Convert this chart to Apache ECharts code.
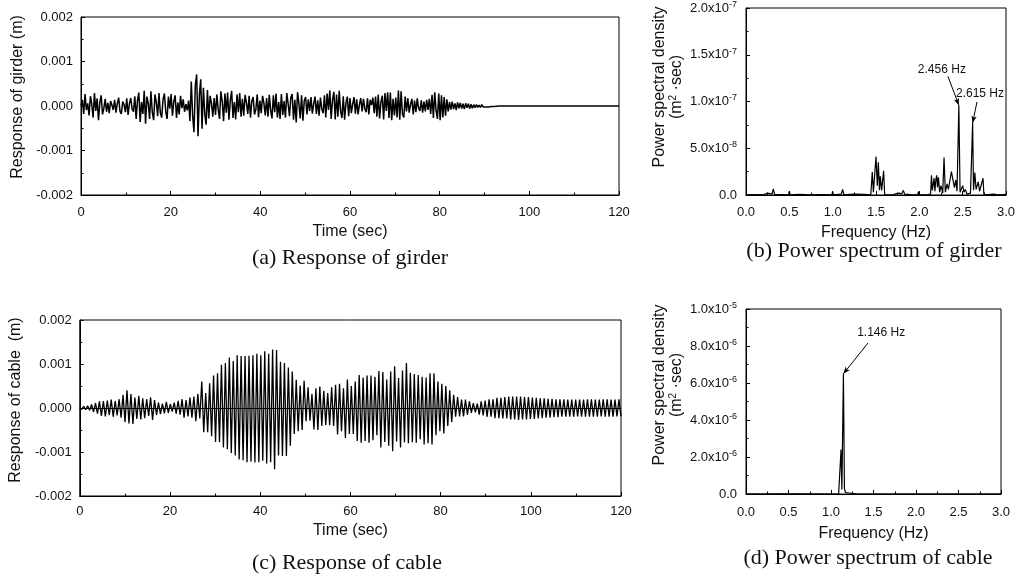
<!DOCTYPE html>
<html>
<head>
<meta charset="utf-8">
<script src="https://cdn.jsdelivr.net/npm/echarts@6/dist/echarts.min.js"></script>
<style>
  html, body { margin: 0; padding: 0; background: #fff; }
  #chart { width: 1023px; height: 577px; }
</style>
</head>
<body>
<div id="chart"></div>
<script>
// ---- Girder displacement record (unit: 1e-4 m), sampled every GIRDER_DT s ----
const GIRDER_DT = 0.3;
const girderResp = [
  0, 1.4, -1.8, 2.7, -0.9, 0.6, -2.1, 2.2, 0.4, -2.6,
  2.9, -1.1, 1.7, -3.2, 0.8, 2.4, -1.9, -0.5, 1.6, -1.3,
  0.7, -1.6, 1.1, 0.2, -0.9, 1.4, -1.5, 0.6, 1.9, -1.2,
  -1.8, 1.0, 0.3, -1.4, 1.7, -2.0, 0.5, 1.8, -0.7, -1.3,
  2.2, -2.9, 1.3, 3.0, -3.6, 0.9, -1.8, 3.4, -4.0, 2.1,
  0.6, -2.9, 3.3, -1.4, -3.2, 2.6, 0.8, -2.3, 2.9, -1.6,
  -2.6, 1.5, 2.8, -1.2, -2.9, 2.1, -0.6, 2.7, -2.2, 1.0,
  2.4, -2.7, 0.8, -1.9, 2.3, -0.5, 1.5, -1.3, 0.4, -1.0,
  1.2, -3.4, 5.5, -2.2, -5.9, 4.7, 7.1, -6.8, 2.3, 6.0,
  -5.1, 4.1, -1.7, -4.2, 3.6, -2.8, 2.3, 0.6, -2.4, 1.8,
  -2.0, 2.6, -0.8, -2.9, 3.3, 1.0, -3.4, 2.8, -1.5, 3.0,
  -3.1, 1.2, 3.4, -2.7, 0.9, -3.0, 2.6, -1.4, 2.9, -2.4,
  1.6, -2.2, 2.5, 0.7, -1.8, 2.3, -2.6, 1.1, 2.0, -1.9,
  -0.8, 2.6, -2.5, 1.2, -1.6, 2.3, 0.6, -2.1, 1.8, -2.4,
  2.5, -1.0, -2.8, 2.4, -1.4, 2.8, -2.6, 0.9, -2.9, 2.7,
  -2.0, 1.1, -2.6, 2.9, 0.5, -2.3, 1.9, 2.7, -3.1, 1.4,
  -3.7, 3.1, 0.6, -2.8, 2.4, -3.3, 1.2, 2.0, -1.9, 1.5,
  -1.1, 2.0, -1.7, 0.5, 2.1, -1.8, 1.3, -2.2, 1.9, -0.6,
  -1.6, 2.4, -2.6, 2.8, -0.9, 3.5, -2.9, 1.4, 3.2, -3.0,
  2.6, -2.4, 3.4, -1.2, -2.7, 2.2, -3.1, 0.7, 2.1, -2.3,
  1.8, -1.6, 0.4, 2.0, -1.7, 1.5, -1.9, 0.3, 1.8, -1.2,
  1.6, -0.6, -1.4, 1.7, -1.9, 1.4, 0.2, 1.9, -1.6, 2.1,
  -2.4, 2.6, -2.8, 0.9, 2.3, -3.0, 2.9, -1.1, 3.1, -2.7,
  3.0, -3.2, 1.6, -2.1, 1.9, -2.6, 3.5, -3.1, 3.3, -1.8,
  -2.6, 2.1, -1.2, 1.8, -1.5, 0.4, 1.6, -1.9, 1.2, -1.4,
  1.7, -0.5, -1.1, 1.3, -1.5, 1.0, -1.2, 1.4, -0.9, 1.6,
  -1.8, 2.5, -2.7, 3.1, -1.0, -2.9, 2.8, -3.2, 2.4, -2.6,
  2.0, -2.2, 1.5, -1.2, 0.9, -0.8, 1.0, -0.7, 0.6, -0.9,
  0.8, -0.5, 0.7, -0.6, 0.5, -0.7, 0.6, -0.4, 0.5, -0.6,
  0.4, -0.5, 0.3, -0.4, 0.3, -0.3, 0.2, -0.3, 0.3, -0.2,
  0.2, -0.2, 0.1, -0.2, 0.1, -0.1, 0.1, -0.1, 0.05, -0.05,
  0, 0, 0, 0, 0, 0, 0, 0, 0, 0,
  0, 0, 0, 0, 0, 0, 0, 0, 0, 0,
  0, 0, 0, 0, 0, 0, 0, 0, 0, 0,
  0, 0, 0, 0, 0, 0, 0, 0, 0, 0,
  0, 0, 0, 0, 0, 0, 0, 0, 0, 0,
  0, 0, 0, 0, 0, 0, 0, 0, 0, 0,
  0, 0, 0, 0, 0, 0, 0, 0, 0, 0,
  0, 0, 0, 0, 0, 0, 0, 0, 0, 0,
  0, 0, 0, 0, 0, 0, 0, 0, 0, 0,
  0
];

// ---- Cable displacement record (unit: 1e-4 m), one sample per half cycle of 1.146 Hz ----
const CABLE_DT = 0.4363;
const cableResp = [
  0.2, -0.3, 0.4, -0.4, 0.5, -0.5, 0.8, -0.9, 1.1, -1.3, 1.5, -1.8, 1.6, -1.9, 1.7, -1.6, 1.9, -2.0, 1.6, -1.7,
  2.0, -2.2, 3.0, -3.2, 4.0, -3.5, 3.2, -3.6, 2.4, -2.5, 2.8, -2.6, 2.2, -2.3, 2.0, -1.8, 2.4, -2.7, 1.8, -1.6,
  1.2, -1.4, 1.0, -1.2, 1.4, -1.1, 0.9, -0.8, 1.2, -1.3, 1.6, -1.5, 2.0, -2.2, 1.8, -1.9, 2.4, -2.2, 2.6, -3.0,
  3.2, -2.4, 6.0, -5.5, 3.4, -5.5, 5.6, -6.4, 7.4, -7.7, 7.9, -7.8, 9.8, -9.0, 10.2, -9.4, 11.5, -10.2, 10.7, -10.8,
  12.0, -11.7, 11.8, -11.9, 11.8, -12.3, 11.9, -12.2, 12.0, -12.4, 12.3, -12.3, 12.0, -12.0, 12.9, -12.6, 12.3, -12.3, 13.3, -13.9,
  13.2, -10.8, 10.5, -10.9, 10.2, -10.9, 9.2, -8.6, 8.3, -5.9, 6.4, -5.3, 5.1, -5.0, 6.2, -3.0, 4.7, -2.9, 3.2, -4.9,
  4.5, -5.0, 4.9, -4.1, 3.9, -3.9, 3.4, -3.9, 4.7, -4.1, 5.3, -6.0, 5.5, -5.3, 4.5, -6.8, 6.5, -5.9, 5.0, -5.9,
  6.0, -7.5, 7.5, -7.9, 6.9, -7.5, 7.4, -7.9, 7.4, -7.3, 7.1, -6.2, 8.4, -9.0, 8.2, -7.7, 6.5, -8.6, 8.3, -9.8,
  9.5, -7.6, 6.8, -9.0, 8.5, -7.8, 10.2, -8.0, 8.0, -7.8, 7.7, -7.9, 7.5, -7.1, 7.1, -8.3, 6.9, -8.0, 7.9, -8.3,
  7.9, -6.2, 6.0, -5.3, 5.5, -5.8, 5.0, -4.1, 4.0, -3.2, 3.0, -2.0, 2.5, -1.9, 1.9, -1.9, 1.9, -1.5, 1.5, -1.1,
  1.1, -1.0, 1.0, -1.5, 1.5, -1.7, 1.7, -2.0, 2.0, -2.0, 2.0, -2.3, 2.3, -2.3, 2.3, -2.4, 2.5, -2.4, 2.6, -2.6,
  2.6, -2.6, 2.6, -2.7, 2.6, -2.6, 2.5, -2.6, 2.5, -2.5, 2.4, -2.5, 2.3, -2.4, 2.2, -2.3, 2.2, -2.2, 2.1, -2.2,
  2.1, -2.1, 2.0, -2.1, 2.0, -2.0, 2.0, -2.0, 1.9, -2.0, 1.9, -2.0, 1.9, -1.9, 1.9, -2.0, 1.9, -2.0, 2.0, -2.0,
  2.0, -2.0, 1.9, -2.0, 1.9, -1.9, 2.0, -2.0, 2.0, -2.0, 1.9, -2.0, 1.9, -1.9, 2.0, -1.9
];

// ---- Girder power spectrum: frequency (Hz) and PSD (unit: 1e-8 m^2·sec) ----
const freqGirder = [
  0.00, 0.10, 0.20, 0.25, 0.26, 0.30, 0.315, 0.33, 0.40, 0.49, 0.50, 0.51, 0.62, 0.73, 0.74, 0.75, 0.88, 0.99, 1.00, 1.01,
  1.10, 1.115, 1.13, 1.24, 1.26, 1.36, 1.44, 1.457, 1.47, 1.50, 1.515, 1.527, 1.54, 1.55, 1.565, 1.588, 1.60, 1.70, 1.735, 1.77,
  1.795, 1.815, 1.83, 1.90, 1.98, 1.99, 2.00, 2.10, 2.13, 2.14, 2.15, 2.17, 2.18, 2.19, 2.20, 2.21, 2.22, 2.235, 2.25, 2.27,
  2.285, 2.30, 2.32, 2.335, 2.35, 2.37, 2.39, 2.405, 2.42, 2.435, 2.456, 2.47, 2.48, 2.50, 2.515, 2.53, 2.55, 2.59, 2.615, 2.625,
  2.64, 2.655, 2.68, 2.695, 2.71, 2.735, 2.745, 2.80, 2.86, 2.90, 3.00
];
const psdGirder = [
  0.02, 0.05, 0.02, 0.2, 0.02, 0.1, 0.66, 0.03, 0.05, 0.02, 0.4, 0.02, 0.06, 0.02, 0.2, 0.02, 0.05, 0.02, 0.35, 0.02,
  0.1, 0.6, 0.02, 0.1, 0.02, 0.06, 0.02, 2.45, 0.3, 4.1, 1.0, 3.5, 0.5, 2.0, 0.5, 2.6, 0.02, 0.05, 0.15, 0.2,
  0.1, 0.5, 0.1, 0.05, 0.02, 0.35, 0.02, 0.05, 0.1, 2.1, 0.5, 1.8, 0.4, 1.6, 2.1, 0.8, 1.9, 0.3, 1.0, 0.2,
  4.0, 0.3, 1.2, 0.6, 1.4, 2.5, 2.3, 0.8, 1.6, 0.4, 9.6, 0.3, 0.2, 1.0, 0.3, 0.6, 0.1, 0.2, 7.7, 0.5,
  2.4, 0.6, 1.4, 0.4, 0.2, 1.8, 0.05, 0.05, 0.1, 0.02, 0.05
];
const girderPeaks = [2.456, 2.615];

// ---- Cable power spectrum: frequency (Hz) and PSD (unit: 1e-6 m^2·sec) ----
const freqCable = [0.00, 0.50, 1.00, 1.09, 1.105, 1.118, 1.128, 1.135, 1.146, 1.158, 1.17, 1.18, 1.30, 2.00, 3.00];
const psdCable  = [0.00, 0.005, 0.00, 0.01, 0.05, 2.4, 0.25, 0.3, 6.5, 0.3, 0.08, 0.02, 0.00, 0.00, 0.00];
const cablePeaks = [1.146];

// Axis tick values
const timeTicks = { min: 0, max: 120, step: 20 };
const respTicks = { min: -0.002, max: 0.002, step: 0.001 };
const freqTicks = { min: 0, max: 3, step: 0.5 };
const psdGirderTicks = { min: 0, max: 2e-7, step: 5e-8 };
const psdCableTicks  = { min: 0, max: 1e-5, step: 2e-6 };

// ---------------------------------------------------------------
const SANS = "'Liberation Sans', Arial, sans-serif";
const SERIF = "'Liberation Serif', 'Times New Roman', serif";
const INK = '#111';

const girderData = girderResp.map((v, i) => [+(i * GIRDER_DT).toFixed(3), v * 1e-4]);
const cableData = cableResp.map((v, i) => [+(i * CABLE_DT).toFixed(4), v * 1e-4]);
const girderPsd = freqGirder.map((f, i) => [f, psdGirder[i] * 1e-8]);
const cablePsd = freqCable.map((f, i) => [f, psdCable[i] * 1e-6]);

function peakPoint(freqs, vals, scale, f) {
  const i = freqs.indexOf(f);
  return [f, vals[i] * scale];
}

function sciLabel(v) {
  if (Math.abs(v) < 1e-20) return '{m|0.0}';
  const e = Math.floor(Math.log10(v) + 1e-9);
  const m = v / Math.pow(10, e);
  return '{m|' + m.toFixed(1) + 'x10}{e|' + e + '}';
}
const sciRich = {
  m: { fontSize: 13, fontFamily: SANS, color: INK, lineHeight: 16 },
  e: { fontSize: 9, fontFamily: SANS, color: INK, lineHeight: 9, verticalAlign: 'top' }
};

const psdName = '{n|Power spectral density}\n{n|(m}{s|2}{n| ·sec)}';
function psdNameStyle(shift) {
  return {
    padding: [0, 0, 0, shift],
    rich: {
      n: { fontSize: 16, fontFamily: SANS, color: INK, lineHeight: 17 },
      s: { fontSize: 10, fontFamily: SANS, color: INK, lineHeight: 10, verticalAlign: 'top' }
    }
  };
}

function baseAxis(gridIndex, t, extra) {
  return Object.assign({
    type: 'value',
    gridIndex: gridIndex,
    min: t.min, max: t.max, interval: t.step,
    axisLine: { show: true, onZero: false, lineStyle: { color: '#000', width: 1 } },
    axisTick: { show: true, inside: true, length: 4, lineStyle: { color: '#000', width: 1 } },
    minorTick: { show: true, splitNumber: 2, length: 2.5, lineStyle: { color: '#000', width: 1 } },
    splitLine: { show: false },
    nameLocation: 'middle',
    nameTextStyle: { fontSize: 16, fontFamily: SANS, color: INK }
  }, extra);
}

function xLabel(margin, fmt) {
  return { fontSize: 13, fontFamily: SANS, color: INK, margin: margin, formatter: fmt };
}

const gridStyle = { show: true, borderColor: '#000', borderWidth: 1, backgroundColor: 'transparent' };

function annotations(peaks, freqs, vals, scale, starts, textPos) {
  return {
    markLine: {
      silent: true,
      symbol: ['none', 'arrow'],
      symbolSize: [4, 7],
      label: { show: false },
      lineStyle: { color: '#000', width: 1, type: 'solid' },
      emphasis: { disabled: true },
      data: peaks.map((f, i) => [
        { coord: starts[i] },
        { coord: peakPoint(freqs, vals, scale, f) }
      ])
    },
    markPoint: {
      silent: true,
      symbol: 'rect',
      symbolSize: 0,
      itemStyle: { color: 'rgba(0,0,0,0)' },
      label: {
        show: true, position: 'inside', color: INK, fontSize: 12, fontFamily: SANS,
        formatter: p => p.name
      },
      data: peaks.map((f, i) => ({ name: f.toFixed(3) + ' Hz', coord: textPos[i] }))
    }
  };
}

const option = {
  animation: false,
  backgroundColor: '#fff',
  grid: [
    Object.assign({ left: 81, right: 404, top: 17, height: 178 }, gridStyle),
    Object.assign({ left: 746, right: 17, top: 6, height: 189 }, gridStyle),
    Object.assign({ left: 77, right: 402, top: 320, height: 176 }, gridStyle),
    Object.assign({ left: 746, right: 22, top: 309, height: 185 }, gridStyle)
  ],
  xAxis: [
    baseAxis(0, timeTicks, { name: 'Time (sec)', nameGap: 29, axisLabel: xLabel(11, v => String(v)) }),
    baseAxis(1, freqTicks, { name: 'Frequency (Hz)', nameGap: 30, axisLabel: xLabel(11, v => v.toFixed(1)) }),
    baseAxis(2, timeTicks, { name: 'Time (sec)', nameGap: 27, axisLabel: xLabel(9, v => String(v)) }),
    baseAxis(3, freqTicks, { name: 'Frequency (Hz)', nameGap: 32, axisLabel: xLabel(12, v => v.toFixed(1)) })
  ],
  yAxis: [
    baseAxis(0, respTicks, {
      name: 'Response of girder (m)', nameGap: 55,
      nameTextStyle: { fontSize: 16, fontFamily: SANS, color: INK, padding: [0, 0, 0, 18] },
      axisLabel: { fontSize: 13, fontFamily: SANS, color: INK, margin: 8, formatter: v => v.toFixed(3) }
    }),
    baseAxis(1, psdGirderTicks, {
      name: psdName, nameGap: 61, nameTextStyle: psdNameStyle(29),
      axisLabel: { margin: 9, formatter: sciLabel, rich: sciRich }
    }),
    baseAxis(2, respTicks, {
      name: 'Response of cable  (m)', nameGap: 54,
      nameTextStyle: { fontSize: 16, fontFamily: SANS, color: INK, padding: [0, 0, 0, 16] },
      axisLabel: { fontSize: 13, fontFamily: SANS, color: INK, margin: 8, formatter: v => v.toFixed(3) }
    }),
    baseAxis(3, psdCableTicks, {
      name: psdName, nameGap: 61, nameTextStyle: psdNameStyle(33),
      axisLabel: { margin: 9, formatter: sciLabel, rich: sciRich }
    })
  ],
  series: [
    {
      type: 'line', xAxisIndex: 0, yAxisIndex: 0, data: girderData,
      showSymbol: false, symbol: 'none', sampling: null,
      lineStyle: { color: '#000', width: 1.5 }, silent: true
    },
    Object.assign({
      type: 'line', xAxisIndex: 1, yAxisIndex: 1, data: girderPsd,
      showSymbol: false, symbol: 'none',
      lineStyle: { color: '#000', width: 1.2 }, silent: true
    }, annotations(girderPeaks, freqGirder, psdGirder, 1e-8,
      [[2.33, 1.27e-7], [2.665, 0.995e-7]],
      [[2.26, 1.34e-7], [2.70, 1.08e-7]])),
    {
      type: 'line', xAxisIndex: 2, yAxisIndex: 2, data: cableData,
      showSymbol: false, symbol: 'none', sampling: null,
      lineStyle: { color: '#000', width: 1.3 }, silent: true,
      markLine: {
        silent: true, symbol: ['none', 'none'], label: { show: false },
        lineStyle: { color: '#000', width: 1, type: 'solid' },
        data: [{ yAxis: 0 }]
      }
    },
    Object.assign({
      type: 'line', xAxisIndex: 3, yAxisIndex: 3, data: cablePsd,
      showSymbol: false, symbol: 'none',
      lineStyle: { color: '#000', width: 1.2 }, silent: true
    }, annotations(cablePeaks, freqCable, psdCable, 1e-6,
      [[1.435, 8.16e-6]],
      [[1.59, 8.7e-6]]))
  ],
  graphic: [
    { type: 'text', x: 350, y: 258, style: { text: '(a) Response of girder', fontSize: 22, fontFamily: SERIF, fill: INK, textAlign: 'center', textVerticalAlign: 'middle' } },
    { type: 'text', x: 874, y: 251, style: { text: '(b) Power spectrum of girder', fontSize: 22, fontFamily: SERIF, fill: INK, textAlign: 'center', textVerticalAlign: 'middle' } },
    { type: 'text', x: 347, y: 563, style: { text: '(c) Response of cable', fontSize: 22, fontFamily: SERIF, fill: INK, textAlign: 'center', textVerticalAlign: 'middle' } },
    { type: 'text', x: 868, y: 558, style: { text: '(d) Power spectrum of cable', fontSize: 22, fontFamily: SERIF, fill: INK, textAlign: 'center', textVerticalAlign: 'middle' } }
  ]
};

const chart = echarts.init(document.getElementById('chart'), null, { renderer: 'canvas' });
chart.setOption(option);
</script>
</body>
</html>
